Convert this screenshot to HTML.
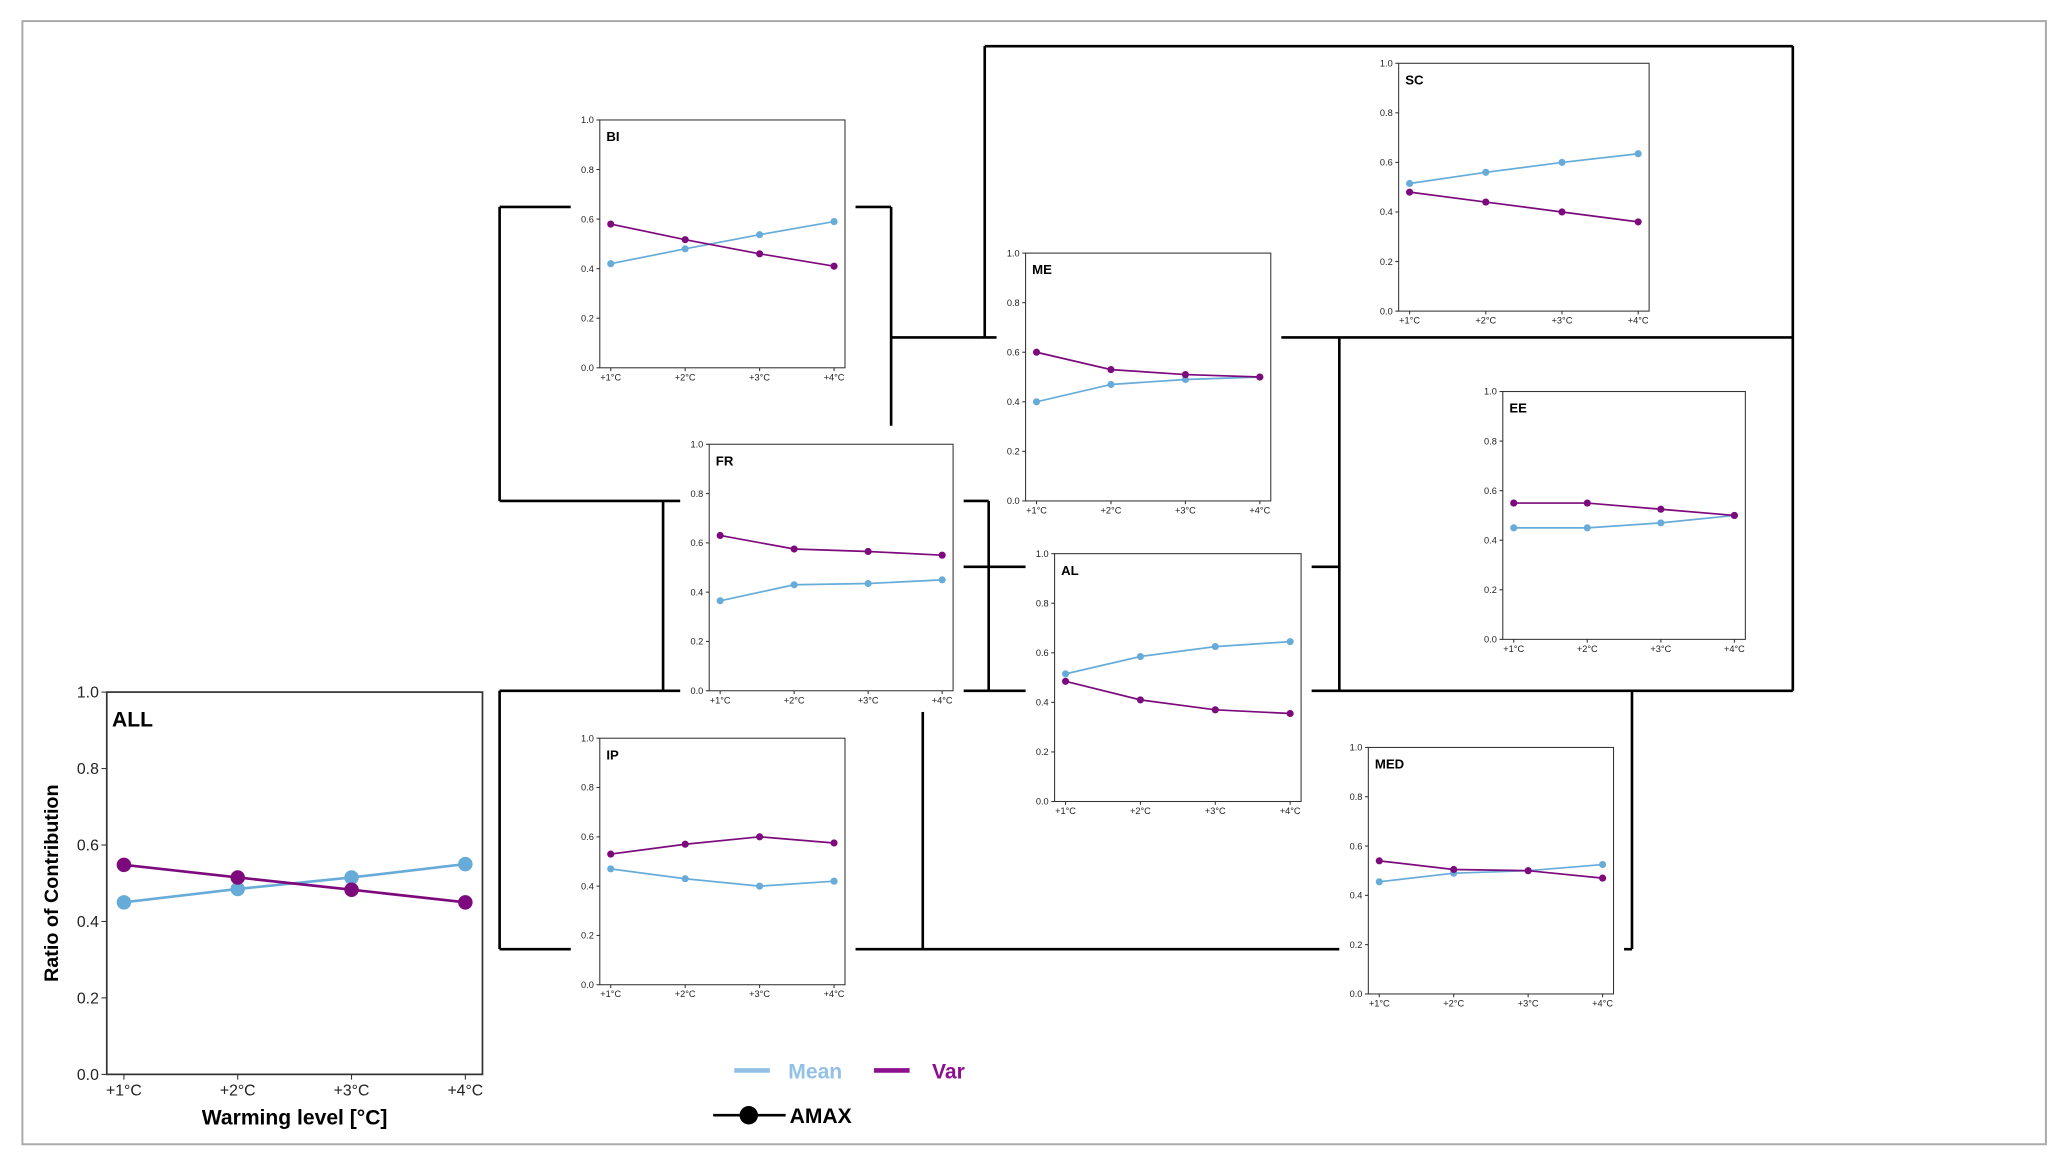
<!DOCTYPE html>
<html><head><meta charset="utf-8">
<style>
html,body{margin:0;padding:0;background:#fff;}
svg{display:block;font-family:"Liberation Sans",sans-serif;}
</style></head>
<body>
<svg id="chart" width="2067" height="1166" viewBox="0 0 1568 884.5" xmlns="http://www.w3.org/2000/svg">
<rect x="0" y="0" width="1568" height="884.5" fill="#fff"/>
<rect x="17" y="16" width="1535" height="852" fill="none" stroke="#aaa" stroke-width="1.5"/>
<g id="frames"></g>
<g id="panels"></g>
<g>
  <line x1="557" y1="812" x2="584" y2="812" stroke="#92c0e6" stroke-width="3.5"/>
  <text x="598" y="818" font-size="16" font-weight="bold" fill="#92c0e6">Mean</text>
  <line x1="663" y1="812" x2="690" y2="812" stroke="#8e0f8e" stroke-width="3.5"/>
  <text x="707" y="818" font-size="16" font-weight="bold" fill="#8e0f8e">Var</text>
  <line x1="541" y1="846" x2="596" y2="846" stroke="#000" stroke-width="2"/>
  <circle cx="568" cy="846" r="7" fill="#000"/>
  <text x="599" y="852" font-size="16" font-weight="bold" fill="#000">AMAX</text>
</g>
</svg>
<script>
const categories = ["+1°C","+2°C","+3°C","+4°C"];
const yTicks = [0.0,0.2,0.4,0.6,0.8,1.0];
const yTickLabels = ["0.0","0.2","0.4","0.6","0.8","1.0"];
const regionNames = ["BI","SC","ME","FR","EE","AL","IP","MED"];
const meanALL = [0.45,0.485,0.515,0.55];
const varALL  = [0.548,0.515,0.483,0.45];
const meanBI = [0.42,0.48,0.537,0.59];
const varBI  = [0.58,0.517,0.46,0.41];
const meanSC = [0.515,0.56,0.60,0.635];
const varSC  = [0.48,0.44,0.40,0.36];
const meanME = [0.40,0.47,0.49,0.50];
const varME  = [0.60,0.53,0.51,0.50];
const meanFR = [0.365,0.43,0.435,0.45];
const varFR  = [0.63,0.575,0.565,0.55];
const meanEE = [0.45,0.45,0.47,0.50];
const varEE  = [0.55,0.55,0.525,0.50];
const meanAL = [0.515,0.585,0.625,0.645];
const varAL  = [0.485,0.41,0.37,0.355];
const meanIP = [0.47,0.43,0.40,0.42];
const varIP  = [0.53,0.57,0.60,0.575];
const meanMED = [0.455,0.49,0.50,0.525];
const varMED  = [0.54,0.505,0.50,0.47];

const NS="http://www.w3.org/2000/svg";
const MEAN_C="#67acd8", VAR_C="#7d0a7d";
function el(tag, attrs, parent){const e=document.createElementNS(NS,tag);for(const k in attrs)e.setAttribute(k,attrs[k]);parent.appendChild(e);return e;}

// region frame lines
const frames=document.getElementById('frames');
const frameLines=[
 [379,157,433,157],[648,157,676,157],[379,157,379,380],[676,157,676,323],[379,380,520,380],
 [747,35,1360,35],[747,35,747,256],[676,256,760,256],[965,256,1360,256],[1360,35,1360,524],
 [1016,256,1016,524],[990,524,1360,524],
 [503,380,503,524],[730,380,750,380],[750,380,750,524],[730,430,778,430],[987,430,1016,430],
 [379,524,530,524],[379,524,379,720],[379,720,440,720],[645,720,1020,720],[1225,720,1238,720],
 [1238,524,1238,720],[700,540,700,720],[724,524,780,524]
];
frameLines.forEach(l=>{
  const ln=el('line',{x1:l[0],y1:l[1],x2:l[2],y2:l[3],stroke:'#000','stroke-width':2},frames);
  
  
});

function drawPanel(name, box, mean, vr, big){
  const g=el('g',{},document.getElementById('panels'));
  
  
  const [L,T,R,B]=box;
  const pad=big?13:8.3;
  const xs=i=>L+pad+i*(R-L-2*pad)/(categories.length-1);
  const ys=v=>B-v*(B-T);
  // white backdrop
  if(!big) el('rect',{x:L-22,y:T-6,width:R-L+30,height:B-T+22,fill:'#fff'},g);
  el('rect',{x:L,y:T,width:R-L,height:B-T,fill:'#fff',stroke:'#333','stroke-width':big?1.3:0.8},g);
  const fs=big?12:7, tl=big?4:2.5;
  yTicks.forEach((v,i)=>{
    el('line',{x1:L-tl,y1:ys(v),x2:L,y2:ys(v),stroke:'#333','stroke-width':0.8},g);
    const t=el('text',{x:L-tl-2,y:ys(v)+fs*0.35,'font-size':fs,'text-anchor':'end',fill:'#222'},g);
    t.textContent=yTickLabels[i];
    
    
  });
  categories.forEach((c,i)=>{
    el('line',{x1:xs(i),y1:B,x2:xs(i),y2:B+tl,stroke:'#333','stroke-width':0.8},g);
    const t=el('text',{x:xs(i),y:B+tl+fs,'font-size':fs,'text-anchor':'middle',fill:'#222'},g);
    t.textContent=c;
    
    
  });
  const tt=el('text',{x:L+(big?4:5),y:T+(big?26:16),'font-size':big?16:10,'font-weight':'bold',fill:'#000'},g);
  tt.textContent=name;
  
  
  [[mean,MEAN_C,'mean'],[vr,VAR_C,'var']].forEach(([arr,col,nm])=>{
    const pl=el('polyline',{points:arr.map((v,i)=>xs(i)+','+ys(v)).join(' '),fill:'none',stroke:col,'stroke-width':big?2:1.3},g);
    
    
    arr.forEach((v,i)=>{
      const c=el('circle',{cx:xs(i),cy:ys(v),r:big?5.5:2.7,fill:col},g);
      
      
    });
  });
  if(big){
    const yl=el('text',{x:0,y:0,'font-size':15,'font-weight':'bold','text-anchor':'middle',transform:`translate(44,${(T+B)/2}) rotate(-90)`},g);
    yl.textContent='Ratio of Contribution';
    
    
    const xl=el('text',{x:(L+R)/2,y:B+38,'font-size':16,'font-weight':'bold','text-anchor':'middle'},g);
    xl.textContent='Warming level [°C]';
    
    
  }
}
const boxes={BI:[455,91,641,279],SC:[1061,48,1251,236],ME:[778,192,964,380],FR:[538,337,723,524],
 EE:[1140,297,1324,485],AL:[800,420,987,608],IP:[455,560,641,747],MED:[1038,567,1224,754]};
const series={BI:[meanBI,varBI],SC:[meanSC,varSC],ME:[meanME,varME],FR:[meanFR,varFR],EE:[meanEE,varEE],AL:[meanAL,varAL],IP:[meanIP,varIP],MED:[meanMED,varMED]};
regionNames.forEach(n=>drawPanel(n,boxes[n],series[n][0],series[n][1],false));
drawPanel("ALL",[81,525,366,815],meanALL,varALL,true);
</script>
</body></html>
